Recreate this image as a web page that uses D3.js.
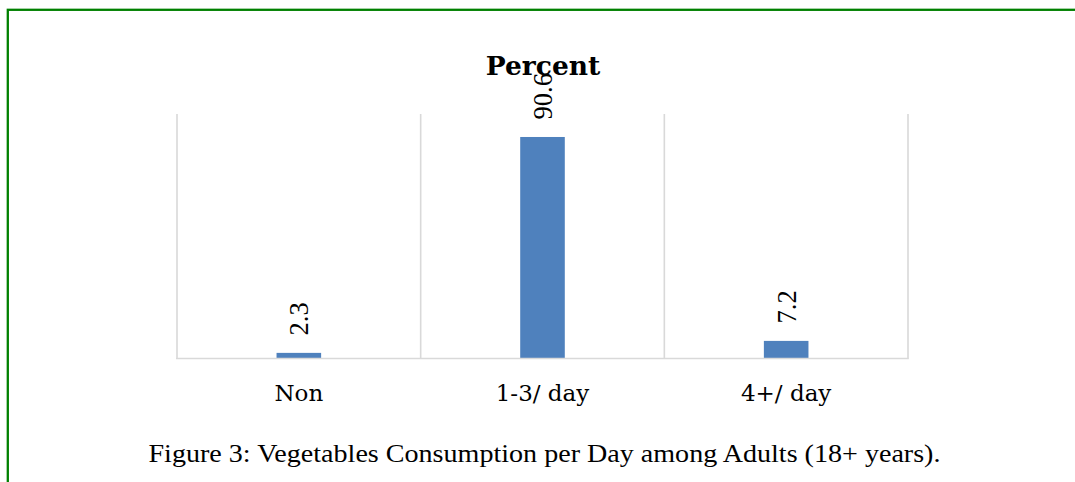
<!DOCTYPE html>
<html>
<head>
<meta charset="utf-8">
<script src="https://cdn.jsdelivr.net/npm/d3@7"></script>
<style>
  html, body { margin: 0; padding: 0; background: #fff; overflow: hidden; }
  svg { display: block; }
</style>
</head>
<body>
<svg id="chart" width="1075" height="482"></svg>
<script>
// Vegetables consumption per day, percent of adults
const categories = ["Non", "1-3/ day", "4+/ day"];
const values = [2.3, 90.6, 7.2];
const yDomain = [0, 100];
const chartTitle = "Percent";
const caption = "Figure 3: Vegetables Consumption per Day among Adults (18+ years).";

const svg = d3.select("#chart");
const W = 1075, H = 482;
const plot = { left: 177, right: 908, top: 114, bottom: 358.5 };
const gridColor = "#d9d9d9";
const barColor = "#4f81bd";

// page frame
svg.append("rect")
  .attr("x", 7.8).attr("y", 9.8)
  .attr("width", 1300).attr("height", 1000)
  .attr("fill", "none")
  .attr("stroke", "#008000")
  .attr("stroke-width", 2.3);

const x = d3.scaleBand()
  .domain(categories)
  .range([plot.left, plot.right])
  .paddingInner(0).paddingOuter(0);

const y = d3.scaleLinear()
  .domain(yDomain)
  .range([plot.bottom, plot.top]);

const barW = x.bandwidth() * 0.183;

// category divider lines
const dividers = categories.map(c => x(c)).concat([x.range()[1]]);
svg.append("g").selectAll("line")
  .data(dividers)
  .join("line")
  .attr("x1", d => d).attr("x2", d => d)
  .attr("y1", plot.top).attr("y2", plot.bottom)
  .attr("stroke", gridColor)
  .attr("stroke-width", 1.6);

// bars
svg.append("g").selectAll("rect")
  .data(values)
  .join("rect")
  .attr("x", (d, i) => x(categories[i]) + x.bandwidth() / 2 - barW / 2)
  .attr("width", barW)
  .attr("y", d => y(d))
  .attr("height", d => y(0) - y(d))
  .attr("fill", barColor);

// category axis
const xAxis = svg.append("g")
  .attr("transform", `translate(0,${plot.bottom})`)
  .call(d3.axisBottom(x).tickSize(0).tickPadding(0));
xAxis.select(".domain")
  .attr("stroke", gridColor)
  .attr("stroke-width", 1.6)
  .attr("d", `M${plot.left - 1},0H${plot.right + 0.8}`);
xAxis.selectAll(".tick text")
  .attr("y", 42.5)
  .attr("dy", null)
  .attr("fill", "#000")
  .style("font-family", "'DejaVu Serif', serif")
  .style("font-size", "23px");

// chart title
svg.append("text")
  .attr("x", 543).attr("y", 74.5)
  .attr("text-anchor", "middle")
  .style("font-family", "'DejaVu Serif', serif")
  .style("font-weight", "bold")
  .style("font-size", "26.5px")
  .text(chartTitle);

// rotated value labels above each bar
svg.append("g").selectAll("text")
  .data(values)
  .join("text")
  .attr("transform", (d, i) => {
    const cx = x(categories[i]) + x.bandwidth() / 2;
    return `translate(${cx},${y(d) - 17.5}) rotate(-90)`;
  })
  .attr("text-anchor", "start")
  .attr("dy", "0.36em")
  .style("font-family", "'Liberation Serif', serif")
  .style("font-size", "26.5px")
  .attr("fill", "#000")
  .text(d => d.toFixed(1));

// figure caption
svg.append("text")
  .attr("x", 544.5).attr("y", 462.3)
  .attr("text-anchor", "middle")
  .attr("textLength", 792)
  .attr("lengthAdjust", "spacingAndGlyphs")
  .style("font-family", "'Liberation Serif', serif")
  .style("font-size", "25.5px")
  .attr("fill", "#000")
  .text(caption);
</script>
</body>
</html>
